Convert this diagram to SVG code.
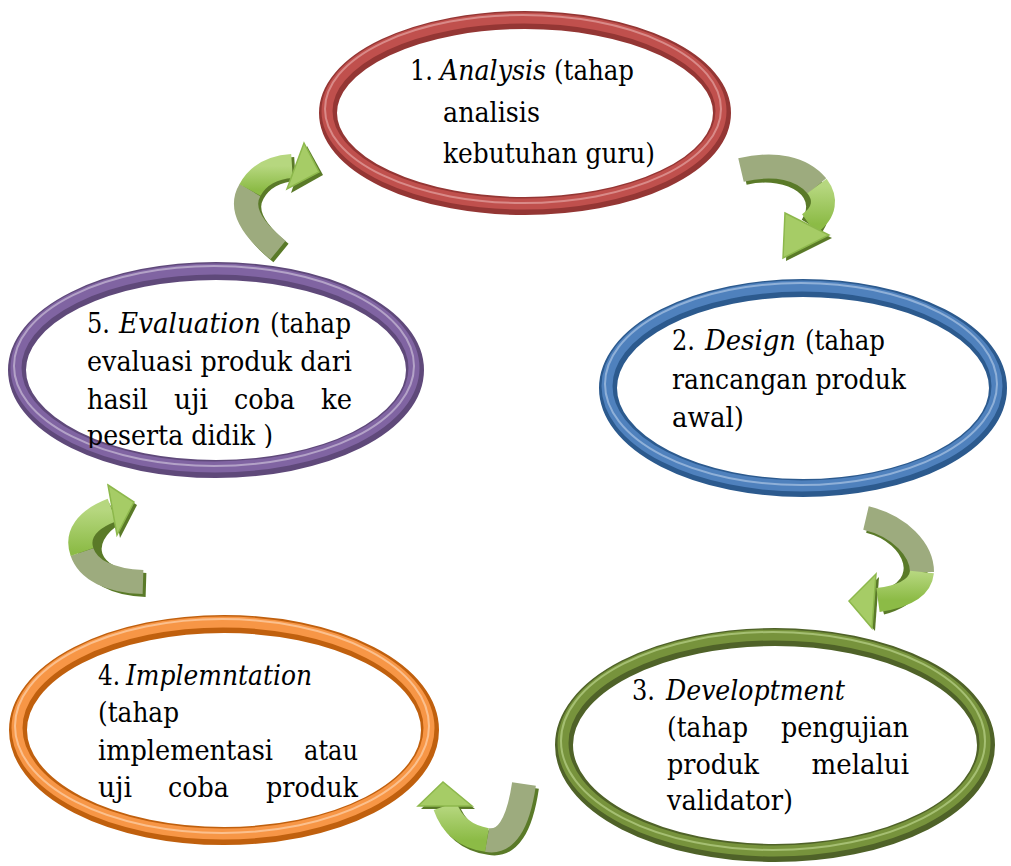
<svg xmlns="http://www.w3.org/2000/svg" width="1011" height="866" viewBox="0 0 1011 866">
<defs>
<style>
.t{font-family:"DejaVu Serif",serif;font-size:28px;fill:#000}
.i{font-style:italic}
.band{fill:none;stroke-width:24;stroke-linecap:butt}
.sh{fill:none;stroke:#5a7a28;stroke-width:24}
.shh{fill:#5a7a28}
.back{stroke:#9dab7e}
.head{fill:#a6cc66;stroke:#8db84c;stroke-width:1.5}
</style>
<linearGradient id="gg" x1="0" y1="0" x2="0" y2="1">
<stop offset="0" stop-color="#b6d77f"/><stop offset="1" stop-color="#8cbb46"/>
</linearGradient>
<clipPath id="clip5"><rect x="60" y="300" width="320" height="148"/></clipPath>
</defs>
<rect width="1011" height="866" fill="#fff"/>

<g id="connectors">
 <g id="arrowA">
  <path class="sh" d="M281 253 Q238 218 253 193 Q265 171 295 169"/>
  <polygon class="shh" points="307,146 323,175 291,193"/>
  <path class="band back" d="M278 250 Q235 215 250 190"/>
  <path class="band" d="M250 190 Q262 168 292 166" stroke="url(#gg)"/>
  <polygon class="head" points="304,143 319,172 287,189"/>
 </g>
 <g id="arrowB">
  <path class="sh" d="M744 173 C793 162 834 190 812 226"/>
  <polygon class="shh" points="788,216 832,238 786,261"/>
  <path class="band back" d="M741 170 C775 162 802 168 817 186"/>
  <path class="band" d="M817 186 C826 198 826 212 809 224" stroke="url(#gg)"/>
  <polygon class="head" points="785,213 829,235 783,258"/>
 </g>
 <g id="arrowC">
  <path class="sh" d="M869 521 C918 533 938 588 881 603"/>
  <polygon class="shh" points="879,577 852,604 875,631"/>
  <path class="band back" d="M866 518 C900 526 922 550 922 572"/>
  <path class="band" d="M922 572 C920 590 900 597 878 600" stroke="url(#gg)"/>
  <polygon class="head" points="876,574 849,601 872,628"/>
 </g>
 <g id="arrowD">
  <path class="sh" d="M527 787 Q518 848 490 843 Q458 838 448 809"/>
  <polygon class="shh" points="421,809 446,785 475,809"/>
  <path class="band back" d="M524 784 Q515 845 487 840"/>
  <path class="band" d="M487 840 Q455 835 445 806" stroke="url(#gg)"/>
  <polygon class="head" points="418,806 443,782 472,806"/>
 </g>
 <g id="arrowE">
  <path class="sh" d="M146 585 C83 583 73 538 115 513"/>
  <polygon class="shh" points="111,488 137,505 120,538"/>
  <path class="band back" d="M143 582 C110 581 88 570 82 552"/>
  <path class="band" d="M82 552 C76 535 86 520 112 510" stroke="url(#gg)"/>
  <polygon class="head" points="108,485 134,502 117,535"/>
 </g>
</g>

<g id="node1">
 <ellipse cx="525" cy="113" rx="197" ry="93" fill="#fff" stroke="#943634" stroke-width="18"/>
 <ellipse cx="524" cy="111" rx="197" ry="93" fill="none" stroke="#c0504d" stroke-width="11"/>
 <ellipse cx="523" cy="109" rx="198" ry="94" fill="none" stroke="#d98a88" stroke-width="2"/>
 <text class="t" x="410" y="80" textLength="23" lengthAdjust="spacingAndGlyphs">1.</text>
 <text class="t i" x="440" y="80" textLength="106" lengthAdjust="spacingAndGlyphs">Analysis</text>
 <text class="t" x="554" y="80" textLength="80" lengthAdjust="spacingAndGlyphs">(tahap</text>
 <text class="t" x="443" y="122" textLength="97" lengthAdjust="spacingAndGlyphs">analisis</text>
 <text class="t" x="443" y="163" textLength="212" lengthAdjust="spacingAndGlyphs">kebutuhan guru)</text>
</g>

<g id="node2">
 <ellipse cx="803" cy="388" rx="195" ry="100" fill="#fff" stroke="#2c5a8e" stroke-width="18"/>
 <ellipse cx="802" cy="386" rx="195" ry="100" fill="none" stroke="#4f81bd" stroke-width="11"/>
 <ellipse cx="801" cy="384" rx="196" ry="101" fill="none" stroke="#8fb0d8" stroke-width="2"/>
 <text class="t" x="672" y="350" textLength="23" lengthAdjust="spacingAndGlyphs">2.</text>
 <text class="t i" x="705" y="350" textLength="91" lengthAdjust="spacingAndGlyphs">Design</text>
 <text class="t" x="805" y="350" textLength="80" lengthAdjust="spacingAndGlyphs">(tahap</text>
 <text class="t" x="672" y="389" textLength="234" lengthAdjust="spacingAndGlyphs">rancangan produk</text>
 <text class="t" x="672" y="427" textLength="72" lengthAdjust="spacingAndGlyphs">awal)</text>
</g>

<g id="node3">
 <ellipse cx="775" cy="745" rx="211" ry="108" fill="#fff" stroke="#4f6228" stroke-width="18"/>
 <ellipse cx="774" cy="743" rx="211" ry="108" fill="none" stroke="#77933c" stroke-width="11"/>
 <ellipse cx="773" cy="741" rx="212" ry="109" fill="none" stroke="#a5bf72" stroke-width="2"/>
 <text class="t" x="632" y="700" textLength="23" lengthAdjust="spacingAndGlyphs">3.</text>
 <text class="t i" x="666" y="700" textLength="179" lengthAdjust="spacingAndGlyphs">Developtment</text>
 <text class="t" x="667" y="737" textLength="81" lengthAdjust="spacingAndGlyphs">(tahap</text>
 <text class="t" x="781" y="737" textLength="128" lengthAdjust="spacingAndGlyphs">pengujian</text>
 <text class="t" x="667" y="774" textLength="92" lengthAdjust="spacingAndGlyphs">produk</text>
 <text class="t" x="811.5" y="774" textLength="97.5" lengthAdjust="spacingAndGlyphs">melalui</text>
 <text class="t" x="667" y="810" textLength="126" lengthAdjust="spacingAndGlyphs">validator)</text>
</g>

<g id="node4">
 <ellipse cx="224" cy="730" rx="206" ry="106" fill="#fff" stroke="#c0600e" stroke-width="18"/>
 <ellipse cx="223" cy="728" rx="206" ry="106" fill="none" stroke="#f79646" stroke-width="11"/>
 <ellipse cx="222" cy="726" rx="207" ry="107" fill="none" stroke="#fbc08e" stroke-width="2"/>
 <text class="t" x="98" y="685" textLength="22" lengthAdjust="spacingAndGlyphs">4.</text>
 <text class="t i" x="126" y="685" textLength="186" lengthAdjust="spacingAndGlyphs">Implemntation</text>
 <text class="t" x="98" y="722" textLength="81" lengthAdjust="spacingAndGlyphs">(tahap</text>
 <text class="t" x="98" y="760" textLength="175" lengthAdjust="spacingAndGlyphs">implementasi</text>
 <text class="t" x="304" y="760" textLength="54" lengthAdjust="spacingAndGlyphs">atau</text>
 <text class="t" x="98" y="797" textLength="34" lengthAdjust="spacingAndGlyphs">uji</text>
 <text class="t" x="168" y="797" textLength="61" lengthAdjust="spacingAndGlyphs">coba</text>
 <text class="t" x="266" y="797" textLength="92" lengthAdjust="spacingAndGlyphs">produk</text>
</g>

<g id="node5">
 <ellipse cx="216" cy="370" rx="199" ry="99" fill="#fff" stroke="#5f497a" stroke-width="18"/>
 <ellipse cx="215" cy="368" rx="199" ry="99" fill="none" stroke="#8064a2" stroke-width="11"/>
 <ellipse cx="214" cy="366" rx="200" ry="100" fill="none" stroke="#b3a2c7" stroke-width="2"/>
 <text class="t" x="87" y="333" textLength="23" lengthAdjust="spacingAndGlyphs">5.</text>
 <text class="t i" x="119" y="333" textLength="142" lengthAdjust="spacingAndGlyphs">Evaluation</text>
 <text class="t" x="270" y="333" textLength="81" lengthAdjust="spacingAndGlyphs">(tahap</text>
 <text class="t" x="87" y="371" textLength="265" lengthAdjust="spacingAndGlyphs">evaluasi produk dari</text>
 <text class="t" x="87" y="409" textLength="61" lengthAdjust="spacingAndGlyphs">hasil</text>
 <text class="t" x="174" y="409" textLength="34" lengthAdjust="spacingAndGlyphs">uji</text>
 <text class="t" x="234" y="409" textLength="61" lengthAdjust="spacingAndGlyphs">coba</text>
 <text class="t" x="321" y="409" textLength="31" lengthAdjust="spacingAndGlyphs">ke</text>
 <text class="t" x="87" y="445" textLength="186" lengthAdjust="spacingAndGlyphs" clip-path="url(#clip5)">peserta didik )</text>
</g>
</svg>
